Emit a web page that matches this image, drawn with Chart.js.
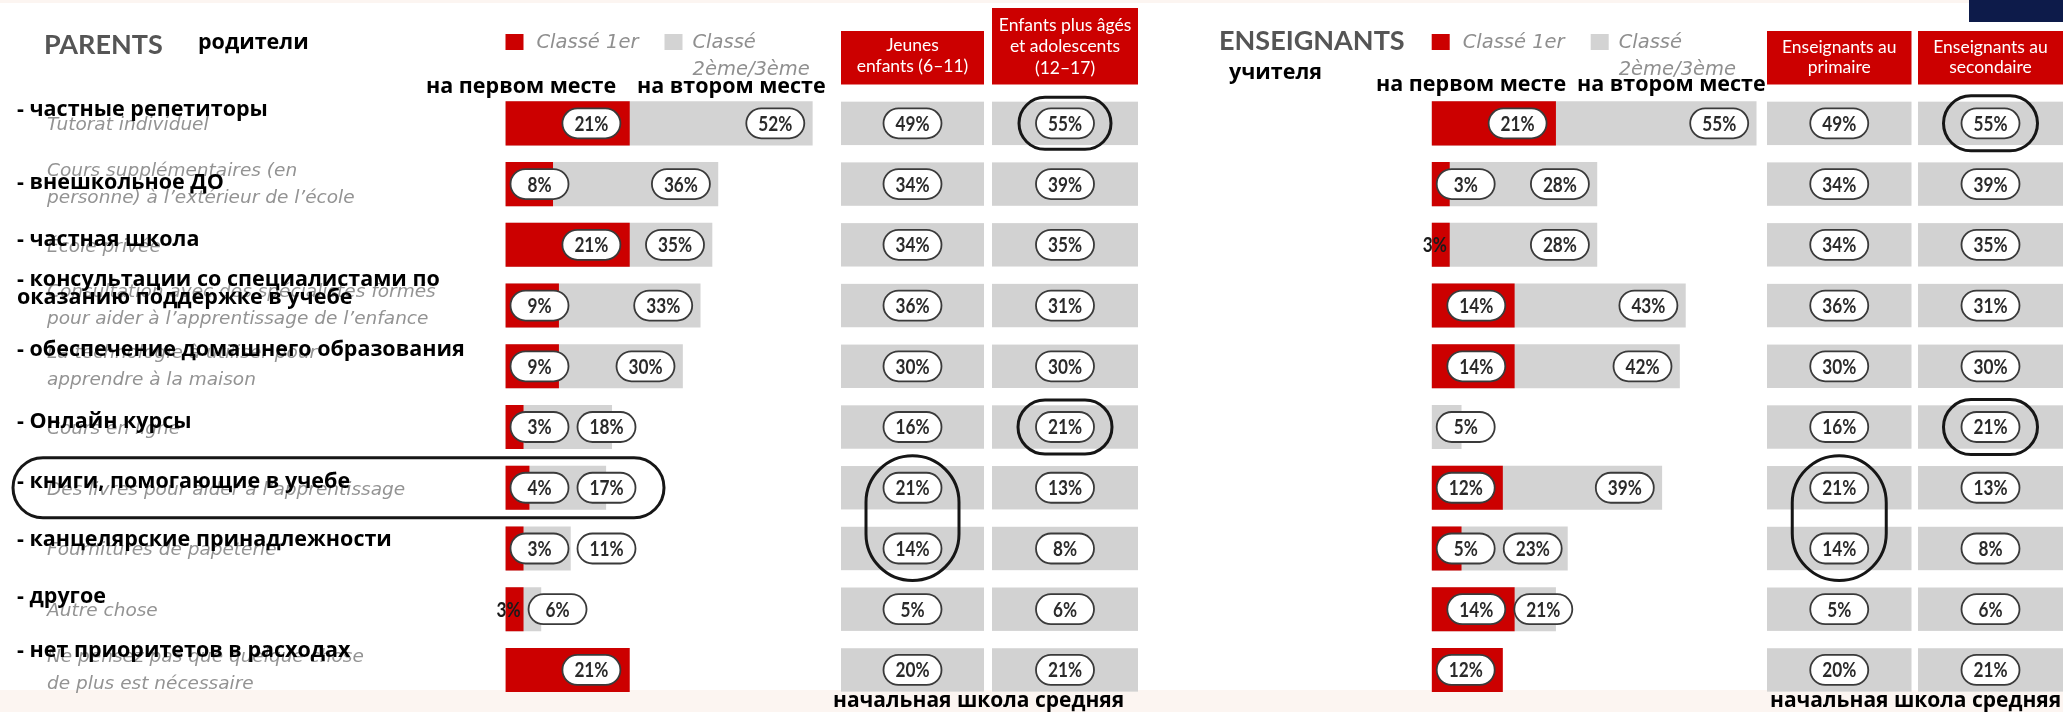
<!DOCTYPE html>
<html>
<head>
<meta charset="utf-8">
<script src="https://cdn.jsdelivr.net/npm/chart.js@4/dist/chart.umd.min.js"></script>
<style>
  body { margin: 0; background: #fff; }
  #wrap { position: relative; width: 2063px; height: 712px; overflow: hidden; background: #fff; }
  .band { position: absolute; left: 0; width: 2063px; background: #fcf5f1; }
  canvas { position: absolute; top: 0; }
</style>
</head>
<body>
<div id="wrap">
  <div class="band" style="top:0;height:3px"></div>
  <div class="band" style="top:690px;height:22px"></div>
  <canvas id="parents" width="1180" height="712" style="left:0"></canvas>
  <canvas id="teachers" width="883" height="712" style="left:1180px"></canvas>
</div>
<script>
// --- données ---
const rowLabelsFr = [
  ['Tutorat individuel'],
  ['Cours supplémentaires (en', 'personne) à l\u2019extérieur de l\u2019école'],
  ['École privée'],
  ['Consultation avec des spécialistes formés', 'pour aider à l\u2019apprentissage de l\u2019enfance'],
  ['La technologie à utiliser pour', 'apprendre à la maison'],
  ['Cours en ligne'],
  ['Des livres pour aider à l\u2019apprentissage'],
  ['Fournitures de papeterie'],
  ['Autre chose'],
  ['Ne pensez pas que quelque chose', 'de plus est nécessaire']
];
const rowLabelsRu = [
  ['- частные репетиторы'],
  ['- внешкольное ДО'],
  ['- частная школа'],
  ['- консультации со специалистами по', 'оказанию поддержке в учебе'],
  ['- обеспечение домашнего образования'],
  ['- Онлайн курсы'],
  ['- книги, помогающие в учебе'],
  ['- канцелярские принадлежности'],
  ['- другое'],
  ['- нет приоритетов в расходах']
];
const legendLabels = ['Classé 1er', 'Classé', '2ème/3ème'];
const rankLabelsRu = ['на первом месте', 'на втором месте'];
const bottomLabelRu = 'начальная школа средняя';

const parentsFirst  = [21, 8, 21, 9, 9, 3, 4, 3, 3, 21];
const parentsSecond = [52, 36, 35, 33, 30, 18, 17, 11, 6, null];
const parentsYoung  = [49, 34, 34, 36, 30, 16, 21, 14, 5, 20];
const parentsOlder  = [55, 39, 35, 31, 30, 21, 13, 8, 6, 21];
const parentsHeaders = [['Jeunes', 'enfants (6\u201311)'], ['Enfants plus âgés', 'et adolescents', '(12\u201317)']];

const teachersFirst     = [21, 3, 3, 14, 14, null, 12, 5, 14, 12];
const teachersSecond    = [55, 28, 28, 43, 42, 5, 39, 23, 21, null];
const teachersPrimary   = [49, 34, 34, 36, 30, 16, 21, 14, 5, 20];
const teachersSecondary = [55, 39, 35, 31, 30, 21, 13, 8, 6, 21];
const teachersHeaders = [['Enseignants au', 'primaire'], ['Enseignants au', 'secondaire']];

// --- styles ---
const RED = '#cc0000', GREY = '#d3d3d3', CELL = '#d2d2d2';
const FR_FONT = 'oblique 18.5px "DejaVu Sans"', RU_FONT = 'bold 21.5px "Open Sans"';
const LEG_FONT = 'oblique 19.5px "DejaVu Sans"';
const PILL_FONT = 'bold 20px Lato', PILL_SX = 0.86, PILL_W = 58, PILL_H = 30;
const AREA_TOP = 93, AREA_BOTTOM = 700.3, AREA_W = 354, X_MAX = 60;

function narrow(ctx, s, x, y, color) {
  ctx.save();
  ctx.font = PILL_FONT;
  ctx.fillStyle = color;
  ctx.textAlign = 'center';
  ctx.textBaseline = 'middle';
  ctx.translate(x, y);
  ctx.scale(PILL_SX, 1);
  ctx.fillText(s, 0, 0);
  ctx.restore();
}

function pill(ctx, x, cy, text) {
  ctx.beginPath();
  ctx.roundRect(x, cy - PILL_H / 2, PILL_W, PILL_H, PILL_H / 2);
  ctx.fillStyle = '#fff';
  ctx.fill();
  ctx.lineWidth = 1.8;
  ctx.strokeStyle = '#3a3a3a';
  ctx.stroke();
  narrow(ctx, text, x + PILL_W / 2, cy + 1, '#2a2a2a');
  return x + PILL_W;
}

function txt(ctx, s, x, y, font, color, align) {
  ctx.font = font;
  ctx.fillStyle = color;
  ctx.textAlign = align || 'left';
  ctx.textBaseline = 'middle';
  ctx.fillText(s, x, y);
}

const panelPlugin = {
  id: 'panel',
  beforeDatasetsDraw(chart, args, o) {
    const ctx = chart.ctx, ys = chart.scales.y, left = chart.chartArea.left + o.offsetX;
    ctx.save();
    ctx.translate(-o.offsetX, 0);
    if (o.navy) { ctx.fillStyle = '#0d1b4a'; ctx.fillRect(o.navy[0], 0, o.navy[1] - o.navy[0], 22); }

    // titres
    txt(ctx, o.title, o.titleX, o.titleY, 'bold 27px Lato', '#555');
    txt(ctx, o.titleRu[0], o.titleRu[1], o.titleRu[2], RU_FONT, '#000');

    // légende
    ctx.fillStyle = RED; ctx.fillRect(left, 34, 18, 16);
    ctx.fillStyle = GREY; ctx.fillRect(left + 159, 34, 18, 16);
    txt(ctx, legendLabels[0], left + 31, 43, LEG_FONT, '#8f8f8f');
    txt(ctx, legendLabels[1], left + 187, 43, LEG_FONT, '#8f8f8f');
    txt(ctx, legendLabels[2], left + 187, 70, LEG_FONT, '#8f8f8f');

    // colonnes du tableau
    o.cols.forEach((c, k) => {
      ctx.fillStyle = RED;
      ctx.fillRect(c[0], o.headTop[k], c[1] - c[0], 84.5 - o.headTop[k]);
      o.headers[k].forEach((line, j) =>
        txt(ctx, line, (c[0] + c[1]) / 2, o.headY[k] + j * o.headLH, '17.5px Lato', '#fff', 'center'));
      o.table[k].forEach((v, i) => {
        const y = ys.getPixelForValue(i);
        ctx.fillStyle = CELL;
        ctx.fillRect(c[0], y - 21.7, c[1] - c[0], 43.4);
      });
    });

    // libellés des lignes
    if (o.rowLabels) {
      rowLabelsFr.forEach((lines, i) => {
        const y = ys.getPixelForValue(i);
        const offs = lines.length === 1 ? [2] : [-13, 14];
        lines.forEach((l, j) => txt(ctx, l, 47, y + offs[j], FR_FONT, '#939393'));
      });
    }
    ctx.restore();
  },
  afterDatasetsDraw(chart, args, o) {
    const ctx = chart.ctx, ys = chart.scales.y, xs = chart.scales.x;
    ctx.save();
    ctx.translate(-o.offsetX, 0);
    const X = v => xs.getPixelForValue(v) + o.offsetX;

    // étiquettes des barres
    o.first.forEach((v1, i) => {
      const y = ys.getPixelForValue(i), base = X(0), v2 = o.second[i];
      let next = base + 5;
      if (v1) {
        if (o.bare.includes(i)) {
          ctx.font = PILL_FONT;
          const w = ctx.measureText(v1 + '%').width * PILL_SX;
          narrow(ctx, v1 + '%', base + 3, y + 1, '#1a1a1a');
          next = base + 3 + w / 2 + 8;
        } else {
          next = pill(ctx, Math.max(X(v1) - 9 - PILL_W, next), y, v1 + '%') + 9;
        }
      }
      if (v2) pill(ctx, Math.max(X(v2) - 8 - PILL_W, next), y, v2 + '%');
    });

    // étiquettes du tableau
    o.cols.forEach((c, k) => {
      o.table[k].forEach((v, i) => pill(ctx, (c[0] + c[1]) / 2 - PILL_W / 2, ys.getPixelForValue(i), v + '%'));
    });

    // textes russes
    txt(ctx, rankLabelsRu[0], o.rank[0][0], o.rank[0][1], RU_FONT, '#000');
    txt(ctx, rankLabelsRu[1], o.rank[1][0], o.rank[1][1], RU_FONT, '#000');
    if (o.rowLabels) {
      rowLabelsRu.forEach((lines, i) => {
        const y = ys.getPixelForValue(i) + o.ruShift[i];
        lines.forEach((l, j) => txt(ctx, l, 17, y + j * 18, RU_FONT, '#000'));
      });
    }
    txt(ctx, bottomLabelRu, o.bottom[0], o.bottom[1], 'bold 21px "Open Sans"', '#000');

    // annotations à main levée
    ctx.lineWidth = 3;
    ctx.strokeStyle = '#161616';
    o.rings.forEach(r => {
      const cx = r.col !== undefined ? (o.cols[r.col][0] + o.cols[r.col][1]) / 2 : (r.x0 + r.x1) / 2;
      const w = r.w || (r.x1 - r.x0);
      const y0 = ys.getPixelForValue(r.rows[0]) - r.hy, y1 = ys.getPixelForValue(r.rows[1]) + r.hy;
      ctx.beginPath();
      ctx.roundRect(cx - w / 2, y0, w, y1 - y0, Math.min(w, y1 - y0) / 2);
      ctx.stroke();
    });
    ctx.restore();
  }
};

function makePanel(id, o) {
  return new Chart(document.getElementById(id), {
    type: 'bar',
    data: {
      labels: rowLabelsFr.map(l => l.join(' ')),
      datasets: [
        { label: legendLabels[0], data: o.first, backgroundColor: RED },
        { label: legendLabels[1] + ' ' + legendLabels[2], data: o.second, backgroundColor: GREY }
      ]
    },
    options: {
      indexAxis: 'y',
      responsive: false,
      animation: false,
      datasets: { bar: { grouped: false, barThickness: 43.4 } },
      layout: {
        padding: {
          left: o.areaLeft - o.offsetX,
          right: o.width - (o.areaLeft - o.offsetX) - AREA_W,
          top: AREA_TOP,
          bottom: 712 - AREA_BOTTOM
        }
      },
      scales: {
        x: { min: 0, max: X_MAX, display: false },
        y: { display: false }
      },
      plugins: { legend: { display: false }, tooltip: { enabled: false }, panel: o }
    },
    plugins: [panelPlugin]
  });
}

makePanel('parents', {
  offsetX: 0, width: 1180, areaLeft: 505.5,
  first: parentsFirst, second: parentsSecond, table: [parentsYoung, parentsOlder], headers: parentsHeaders,
  title: 'PARENTS', titleX: 44, titleY: 45, titleRu: ['родители', 198, 43],
  rank: [[426, 87], [637, 87]],
  cols: [[841, 984], [992, 1138]], headTop: [31, 8], headY: [45, 25], headLH: 21.5,
  bottom: [833, 701], rowLabels: true, bare: [8],
  ruShift: [-13, -1, -5, -26, -16, -5, -6, -9, -12, -19],
  rings: [
    { x0: 13, x1: 664, rows: [6, 6], hy: 30 },
    { col: 1, w: 92, rows: [0, 0], hy: 26 },
    { col: 1, w: 94, rows: [5, 5], hy: 27 },
    { col: 0, w: 93, rows: [6, 7], hy: 32 }
  ]
});

makePanel('teachers', {
  offsetX: 1180, width: 883, areaLeft: 1431.7,
  first: teachersFirst, second: teachersSecond, table: [teachersPrimary, teachersSecondary], headers: teachersHeaders,
  title: 'ENSEIGNANTS', titleX: 1219, titleY: 41, titleRu: ['учителя', 1229, 73],
  rank: [[1376, 85], [1577, 85]],
  cols: [[1767, 1911.5], [1918, 2063]], headTop: [31, 31], headY: [47, 47], headLH: 20,
  bottom: [1770, 701], rowLabels: false, bare: [2], navy: [1969, 2063],
  rings: [
    { col: 1, w: 94, rows: [0, 0], hy: 27.5 },
    { col: 1, w: 94, rows: [5, 5], hy: 27.5 },
    { col: 0, w: 94, rows: [6, 7], hy: 32 }
  ]
});
</script>
</body>
</html>
